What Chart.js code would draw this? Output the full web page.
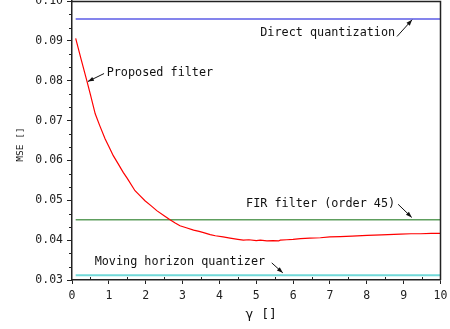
<!DOCTYPE html>
<html>
<head>
<meta charset="utf-8">
<script src="https://cdn.jsdelivr.net/npm/chart.js@4.4.1/dist/chart.umd.min.js"></script>
<style>
html,body{margin:0;padding:0;background:#fff;}
#wrap{width:450px;height:329px;position:relative;}
</style>
</head>
<body>
<div id="wrap"><canvas id="c" width="450" height="329"></canvas></div>
<script>
// ---- data ----
const gammaValues = [0.1,0.25,0.4,0.5,0.63,0.75,0.9,1.0,1.12,1.25,1.39,1.5,1.71,1.85,1.98,2.15,2.3,2.5,2.66,2.8,2.93,3.1,3.3,3.45,3.57,3.75,3.89,4.1,4.29,4.5,4.65,4.8,5.0,5.11,5.29,5.45,5.61,5.65,5.83,6.0,6.2,6.45,6.74,7.0,7.28,7.6,8.01,8.4,8.91,9.2,9.46,9.75,10.0];
const proposedMSE = [0.0906,0.0853,0.0801,0.0765,0.0717,0.0688,0.0654,0.0635,0.0612,0.0592,0.0570,0.0555,0.0524,0.0511,0.0499,0.0486,0.0474,0.0461,0.0451,0.0443,0.0436,0.0431,0.0425,0.0422,0.0419,0.0414,0.0411,0.0408,0.0405,0.0402,0.0400,0.0401,0.0399,0.0400,0.0398,0.0399,0.0398,0.0400,0.0401,0.0402,0.0404,0.0405,0.0406,0.0408,0.0409,0.0410,0.0412,0.0413,0.0415,0.0416,0.0416,0.0417,0.0417];
const lineRange = [0.1, 10];
const directMSE = 0.0955;
const firMSE = 0.0451;
const movingHorizonMSE = 0.0312;
const xTicks = [0,1,2,3,4,5,6,7,8,9,10];
const yTicks = [0.03,0.04,0.05,0.06,0.07,0.08,0.09,0.10];
const labels = ["Proposed filter","Direct quantization","FIR filter (order 45)","Moving horizon quantizer"];

const MONO = '"DejaVu Sans Mono", "Liberation Mono", monospace';

const flat = v => lineRange.map(x => ({x, y: v}));
const datasets = [
  {label: labels[0], data: gammaValues.map((g,i)=>({x:g,y:proposedMSE[i]})), borderColor:'#ff0000', borderWidth:1.2},
  {label: labels[1], data: flat(directMSE), borderColor:'#5b5be6', borderWidth:1.6},
  {label: labels[2], data: flat(firMSE), borderColor:'#5e9e5e', borderWidth:1.6},
  {label: labels[3], data: flat(movingHorizonMSE), borderColor:'#72d9d9', borderWidth:2}
];

// annotation placement (data units): text anchor + arrow from -> to
const notes = [
  {text: labels[0], align:'left',  tx:0.94, ty:0.0819, ax:[0.87,0.0818], bx:[0.43,0.0798]},
  {text: labels[1], align:'right', tx:8.77, ty:0.0919, ax:[8.82,0.0911], bx:[9.23,0.0953]},
  {text: labels[2], align:'right', tx:8.77, ty:0.0492, ax:[8.85,0.0490], bx:[9.22,0.0457]},
  {text: labels[3], align:'right', tx:5.24, ty:0.0346, ax:[5.42,0.0343], bx:[5.72,0.0318]}
];

const decor = {
  id:'decor',
  afterDatasetsDraw(chart){
    const ctx = chart.ctx, xs = chart.scales.x, ys = chart.scales.y, a = chart.chartArea;
    ctx.save();
    // frame (top & right)
    ctx.strokeStyle = '#222'; ctx.lineWidth = 1.5;
    ctx.beginPath();
    ctx.moveTo(a.left, a.top+0.5); ctx.lineTo(a.right, a.top+0.5); ctx.lineTo(a.right, a.bottom);
    ctx.stroke();
    // minor ticks
    ctx.lineWidth = 1; ctx.strokeStyle = '#222';
    ctx.beginPath();
    for (let i=0;i<xTicks.length-1;i++){
      const px = Math.round(xs.getPixelForValue((xTicks[i]+xTicks[i+1])/2))+0.5;
      ctx.moveTo(px, a.bottom); ctx.lineTo(px, a.bottom-3);
    }
    for (let i=0;i<yTicks.length-1;i++){
      for (let k=1;k<3;k++){
        const v = yTicks[i] + (yTicks[i+1]-yTicks[i])*k/3;
        const py = Math.round(ys.getPixelForValue(v))+0.5;
        ctx.moveTo(a.left, py); ctx.lineTo(a.left-3, py);
      }
    }
    ctx.stroke();
    // annotations
    ctx.font = '11.8px ' + MONO;
    ctx.fillStyle = '#111'; ctx.textBaseline = 'middle';
    notes.forEach(n=>{
      ctx.textAlign = n.align;
      ctx.fillText(n.text, xs.getPixelForValue(n.tx), ys.getPixelForValue(n.ty));
      const x1 = xs.getPixelForValue(n.ax[0]), y1 = ys.getPixelForValue(n.ax[1]);
      const x2 = xs.getPixelForValue(n.bx[0]), y2 = ys.getPixelForValue(n.bx[1]);
      ctx.strokeStyle = '#111'; ctx.lineWidth = 1;
      ctx.beginPath(); ctx.moveTo(x1,y1); ctx.lineTo(x2,y2); ctx.stroke();
      const ang = Math.atan2(y2-y1, x2-x1), L = 6, W = 2.2;
      ctx.beginPath();
      ctx.moveTo(x2,y2);
      ctx.lineTo(x2 - L*Math.cos(ang) + W*Math.sin(ang), y2 - L*Math.sin(ang) - W*Math.cos(ang));
      ctx.lineTo(x2 - L*Math.cos(ang) - W*Math.sin(ang), y2 - L*Math.sin(ang) + W*Math.cos(ang));
      ctx.closePath(); ctx.fill();
    });
    // axis titles
    ctx.fillStyle = '#111';
    ctx.textAlign = 'center';
    ctx.font = '13px ' + MONO;
    ctx.fillText('γ []', (a.left+a.right)/2 + 5, 315);
    ctx.save();
    ctx.translate(21, (a.top+a.bottom)/2 + 4);
    ctx.rotate(-Math.PI/2);
    ctx.font = '9.5px ' + MONO;
    ctx.fillText('MSE []', 0, 0);
    ctx.restore();
    ctx.restore();
  }
};

function noPad(s){ s.paddingTop = 0; s.paddingBottom = 0; s.paddingLeft = 0; s.paddingRight = 0; }

new Chart(document.getElementById('c'), {
  type:'line',
  data:{datasets},
  options:{
    responsive:false, animation:false, devicePixelRatio:1,
    layout:{autoPadding:false, padding:{top:1, right:9.5, bottom:0, left:0}},
    elements:{point:{radius:0}, line:{tension:0}},
    plugins:{legend:{display:false}, tooltip:{enabled:false}},
    scales:{
      x:{type:'linear', min:0, max:10,
        afterFit(s){ s.height = 49; noPad(s); },
        afterBuildTicks(s){ s.ticks = xTicks.map(v=>({value:v})); },
        ticks:{font:{family:MONO, size:11.5}, color:'#222', padding:5, maxRotation:0, autoSkip:false},
        grid:{drawOnChartArea:false, tickLength:4, color:'#222'},
        border:{color:'#222', width:1.5}
      },
      y:{type:'linear', min:0.03, max:0.10,
        afterFit(s){ s.width = 72; noPad(s); },
        afterBuildTicks(s){ s.ticks = yTicks.map(v=>({value:v})); },
        ticks:{font:{family:MONO, size:11.5}, color:'#222', padding:4, callback:v=>v.toFixed(2)},
        grid:{drawOnChartArea:false, tickLength:5, color:'#222'},
        border:{color:'#222', width:1.5}
      }
    }
  },
  plugins:[decor]
});
</script>
</body>
</html>
